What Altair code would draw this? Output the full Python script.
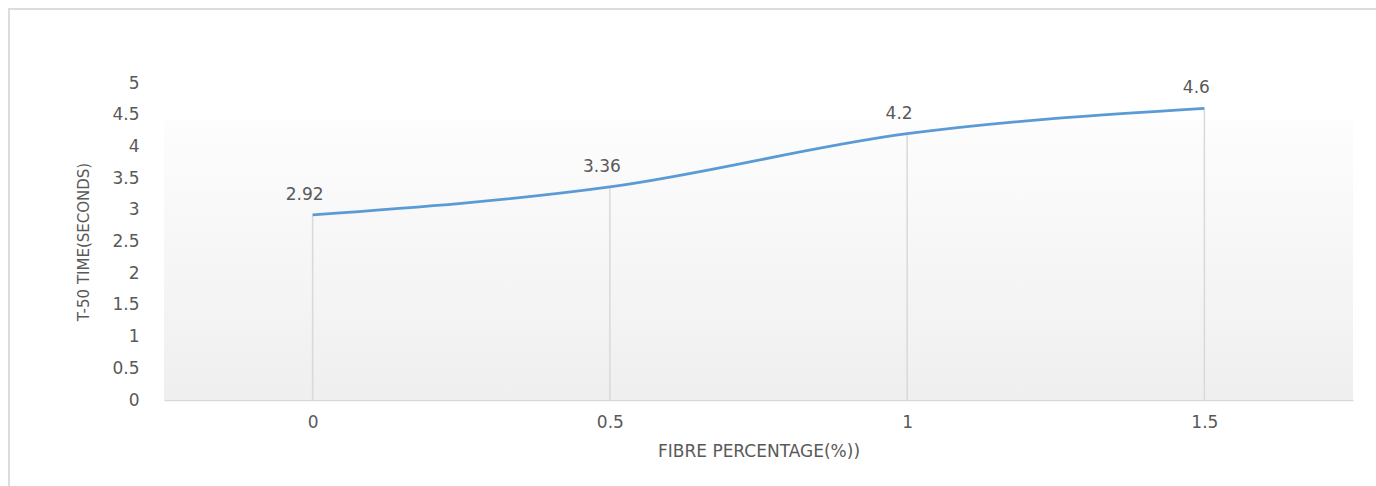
import altair as alt
import pandas as pd

# Fibre percentage vs. T-50 slump flow time
fibre_pct = ["0", "0.5", "1", "1.5"]
t50_time = [2.92, 3.36, 4.2, 4.6]
y_ticks = [0, 0.5, 1, 1.5, 2, 2.5, 3, 3.5, 4, 4.5, 5]

df = pd.DataFrame({"fibre": fibre_pct, "t50": t50_time})
df["label"] = [str(v) for v in t50_time]

W, H = 1189, 317
TEXT = "#595959"
GRID = "#d9d9d9"
FONT = "DejaVu Sans"

x_enc = alt.X(
    "fibre:O",
    sort=fibre_pct,
    scale=alt.Scale(type="point", padding=0.5),
    axis=alt.Axis(
        title="FIBRE PERCENTAGE(%))",
        labelAngle=0,
        ticks=False,
        domain=True,
        domainColor=GRID,
        domainWidth=1.5,
        labelPadding=14,
        labelFont=FONT,
        labelFontSize=17,
        labelColor=TEXT,
        titleFont=FONT,
        titleFontSize=17,
        titleFontWeight="normal",
        titleColor=TEXT,
        titleX=W / 2,
        titleY=51,
        titleAlign="center",
        titleBaseline="middle",
    ),
)

y_scale = alt.Scale(domain=[0, 5], nice=False)
y_axis = alt.Axis(
    title="T-50 TIME(SECONDS)",
    values=y_ticks,
    labelExpr="'' + datum.value",
    ticks=False,
    domain=False,
    grid=False,
    labelPadding=25,
    labelFont=FONT,
    labelFontSize=17,
    labelColor=TEXT,
    titleFont=FONT,
    titleFontSize=15,
    titleFontWeight="normal",
    titleColor=TEXT,
    titleAngle=270,
    titleX=-81,
    titleY=H / 2,
    titleAlign="center",
    titleBaseline="middle",
)

base = alt.Chart(df)

# outer chart frame
frame = base.mark_rect(fill=None, stroke="#dcdcdc", strokeWidth=2).encode(
    x=alt.value(-155), x2=alt.value(W + 40),
    y=alt.value(-74), y2=alt.value(H + 120),
)

# plot-area fill: soft vertical gradient
backdrop = base.mark_rect(
    color=alt.Gradient(
        gradient="linear",
        stops=[alt.GradientStop(color="#fdfdfd", offset=0),
               alt.GradientStop(color="#efefef", offset=1)],
        x1=0, x2=0, y1=0, y2=1,
    )
).encode(
    x=alt.value(0), x2=alt.value(W),
    y=alt.value(37), y2=alt.value(H),
)

drops = base.mark_rule(color=GRID, strokeWidth=1.5).encode(
    x=x_enc,
    y=alt.Y("t50:Q", scale=y_scale, axis=y_axis),
    y2=alt.datum(0),
)

line = base.mark_line(color="#5B9BD5", strokeWidth=2.75, interpolate="monotone").encode(
    x=x_enc,
    y=alt.Y("t50:Q", scale=y_scale, axis=y_axis),
)

labels = base.mark_text(
    font=FONT, fontSize=17, color=TEXT, baseline="alphabetic", dy=-15, dx=-8
).encode(
    x=x_enc,
    y=alt.Y("t50:Q", scale=y_scale, axis=y_axis),
    text="label:N",
)

chart = (
    alt.layer(frame, backdrop, drops, line, labels)
    .properties(
        width=W,
        height=H,
        autosize=alt.AutoSizeParams(type="none"),
        padding={"left": 164, "top": 83, "right": 23, "bottom": 86},
        background="white",
    )
    .configure_view(stroke=None)
)

chart.save("out.html", embed_options={"renderer": "svg", "actions": False})
